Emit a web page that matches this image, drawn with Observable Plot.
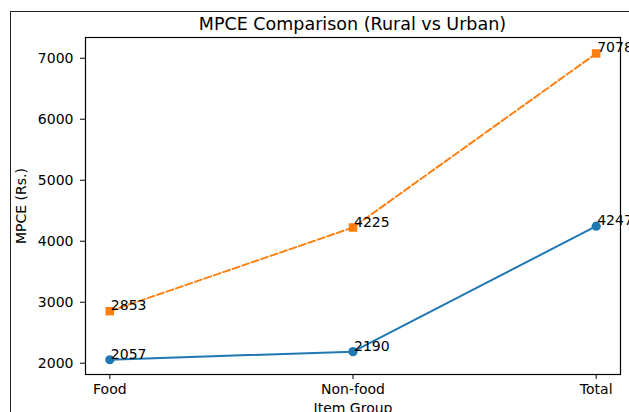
<!DOCTYPE html>
<html>
<head>
<meta charset="utf-8">
<script src="https://cdn.jsdelivr.net/npm/d3@7"></script>
<script src="https://cdn.jsdelivr.net/npm/@observablehq/plot@0.6"></script>
<style>
  html, body { margin: 0; padding: 0; background: #fff; overflow: hidden; }
  #wrap { position: relative; width: 629px; height: 412px; font-family: "DejaVu Sans", sans-serif; }
  #border { position: absolute; left: 10px; top: 11px; width: 700px; height: 500px; border-left: 1.5px solid #222; border-top: 1.5px solid #222; }
  #title { position: absolute; left: 85px; width: 535px; top: 16px; line-height: 17px; text-align: center; font-size: 17.5px; color: #000; white-space: nowrap; }
  #chart { position: absolute; left: 0; top: 0; }
</style>
</head>
<body>
<div id="wrap">
  <div id="border"></div>
  <div id="chart"></div>
  <div id="title">MPCE Comparison (Rural vs Urban)</div>
</div>
<script>
const categories = ["Food", "Non-food", "Total"];
const rural = [2057, 2190, 4247];
const urban = [2853, 4225, 7078];
const yTicks = [2000, 3000, 4000, 5000, 6000, 7000];

const ruralData = categories.map((c, i) => ({i, v: rural[i]}));
const urbanData = categories.map((c, i) => ({i, v: urban[i]}));

const chart = Plot.plot({
  width: 629,
  height: 412,
  marginLeft: 85,
  marginRight: 9,
  marginTop: 37,
  marginBottom: 38,
  style: {fontFamily: "DejaVu Sans, sans-serif", fontSize: "14px", color: "#000", background: "transparent"},
  x: {domain: [-0.1, 2.1], ticks: [0, 1, 2], tickFormat: i => categories[i], label: "Item Group",
      labelAnchor: "center", labelOffset: 38, labelArrow: "none", tickSize: 5, tickPadding: 5},
  y: {domain: [1815, 7340], ticks: yTicks, tickFormat: d => String(d), label: "MPCE (Rs.)",
      labelAnchor: "center", labelOffset: 69, labelArrow: "none", tickSize: 5, tickPadding: 7},
  marks: [
    Plot.frame({stroke: "#000", strokeWidth: 1.2}),
    Plot.line(urbanData, {x: "i", y: "v", stroke: "#ff7f0e", strokeWidth: 2, strokeDasharray: "7,3"}),
    Plot.line(ruralData, {x: "i", y: "v", stroke: "#1f77b4", strokeWidth: 2}),
    Plot.dot(urbanData, {x: "i", y: "v", symbol: "square", r: 4.8, fill: "#ff7f0e", stroke: "none"}),
    Plot.dot(ruralData, {x: "i", y: "v", symbol: "circle", r: 4.6, fill: "#1f77b4", stroke: "none"}),
    Plot.text(urbanData, {x: "i", y: "v", text: d => String(d.v), textAnchor: "start", lineAnchor: "bottom", dx: 1, dy: -1, fontSize: 14, fill: "#000"}),
    Plot.text(ruralData, {x: "i", y: "v", text: d => String(d.v), textAnchor: "start", lineAnchor: "bottom", dx: 1, dy: -1, fontSize: 14, fill: "#000"})
  ]
});
document.getElementById("chart").appendChild(chart);
</script>
</body>
</html>
